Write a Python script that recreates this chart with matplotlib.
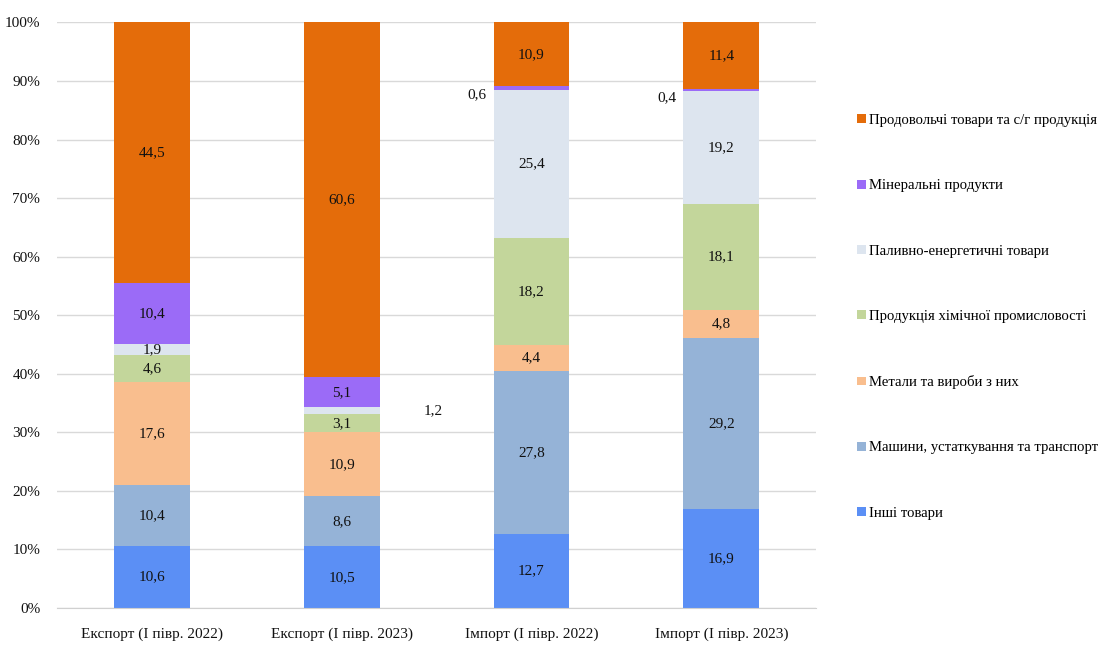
import matplotlib.pyplot as plt
import numpy as np

plt.rcParams['font.family'] = ['Liberation Serif', 'DejaVu Serif']

groups = ["Експорт (І півр. 2022)", "Експорт (І півр. 2023)",
          "Імпорт (І півр. 2022)", "Імпорт (І півр. 2023)"]

# bottom to top
categories = ["Інші товари", "Машини, устаткування та транспорт",
              "Метали та вироби з них", "Продукція хімічної промисловості",
              "Паливно-енергетичні товари", "Мінеральні продукти",
              "Продовольчі товари та с/г продукція"]

inshi = [10.6, 10.5, 12.7, 16.9]
mashyny = [10.4, 8.6, 27.8, 29.2]
metaly = [17.6, 10.9, 4.4, 4.8]
khimiya = [4.6, 3.1, 18.2, 18.1]
palyvo = [1.9, 1.2, 25.4, 19.2]
mineraly = [10.4, 5.1, 0.6, 0.4]
prodovolchi = [44.5, 60.6, 10.9, 11.4]

series = [inshi, mashyny, metaly, khimiya, palyvo, mineraly, prodovolchi]
colors = ["#5B8FF5", "#95B3D7", "#F9BE8E", "#C3D69B", "#DDE5EF", "#9B6BF7", "#E46C0A"]

fig = plt.figure(figsize=(11.05, 6.55), dpi=100)
ax = fig.add_axes([0.0516, 0.0718, 0.687, 0.894])

x = np.arange(len(groups))
width = 0.4
bottom = np.zeros(len(groups))
handles = []
for vals, col, name in zip(series, colors, categories):
    vals = np.array(vals)
    b = ax.bar(x, vals, width, bottom=bottom, color=col, label=name, zorder=2)
    handles.append(b)
    for i, v in enumerate(vals):
        txt = f"{v:.1f}".replace(".", ",")
        yc = bottom[i] + v / 2
        if v < 1.0:
            # tiny slices labelled left of the bar
            ax.text(x[i] - width / 2 - 0.035, yc - 1.2, txt, ha='right', va='center',
                    fontsize=11, color='#111111')
        elif name == "Паливно-енергетичні товари" and v < 1.5:
            ax.text(x[i] + 0.48, yc, txt, ha='center', va='center',
                    fontsize=11, color='#111111')
        else:
            ax.text(x[i], yc, txt, ha='center', va='center',
                    fontsize=11, color='#111111')
    bottom += vals

ax.set_xlim(-0.5, 3.5)
ax.set_ylim(0, 100)
ax.set_yticks(np.arange(0, 101, 10))
ax.set_yticklabels([f"{t}%" for t in range(0, 101, 10)], fontsize=11)
ax.set_xticks(x)
ax.set_xticklabels(groups, fontsize=11)
ax.yaxis.grid(True, color='#d9d9d9', linewidth=1, zorder=0)
ax.set_axisbelow(True)
for s in ['top', 'right', 'left']:
    ax.spines[s].set_visible(False)
ax.spines['bottom'].set_color('#d0d0d0')
ax.tick_params(axis='both', length=0, colors='#111111')
ax.tick_params(axis='x', pad=14)
ax.tick_params(axis='y', pad=12)

fig.legend(handles[::-1], categories[::-1], loc='upper left',
           bbox_to_anchor=(0.764, 0.846), frameon=False, fontsize=10.6,
           labelspacing=3.55, handlelength=0.55, handleheight=0.55,
           handletextpad=0.2)

fig.savefig("out.png", dpi=100)
